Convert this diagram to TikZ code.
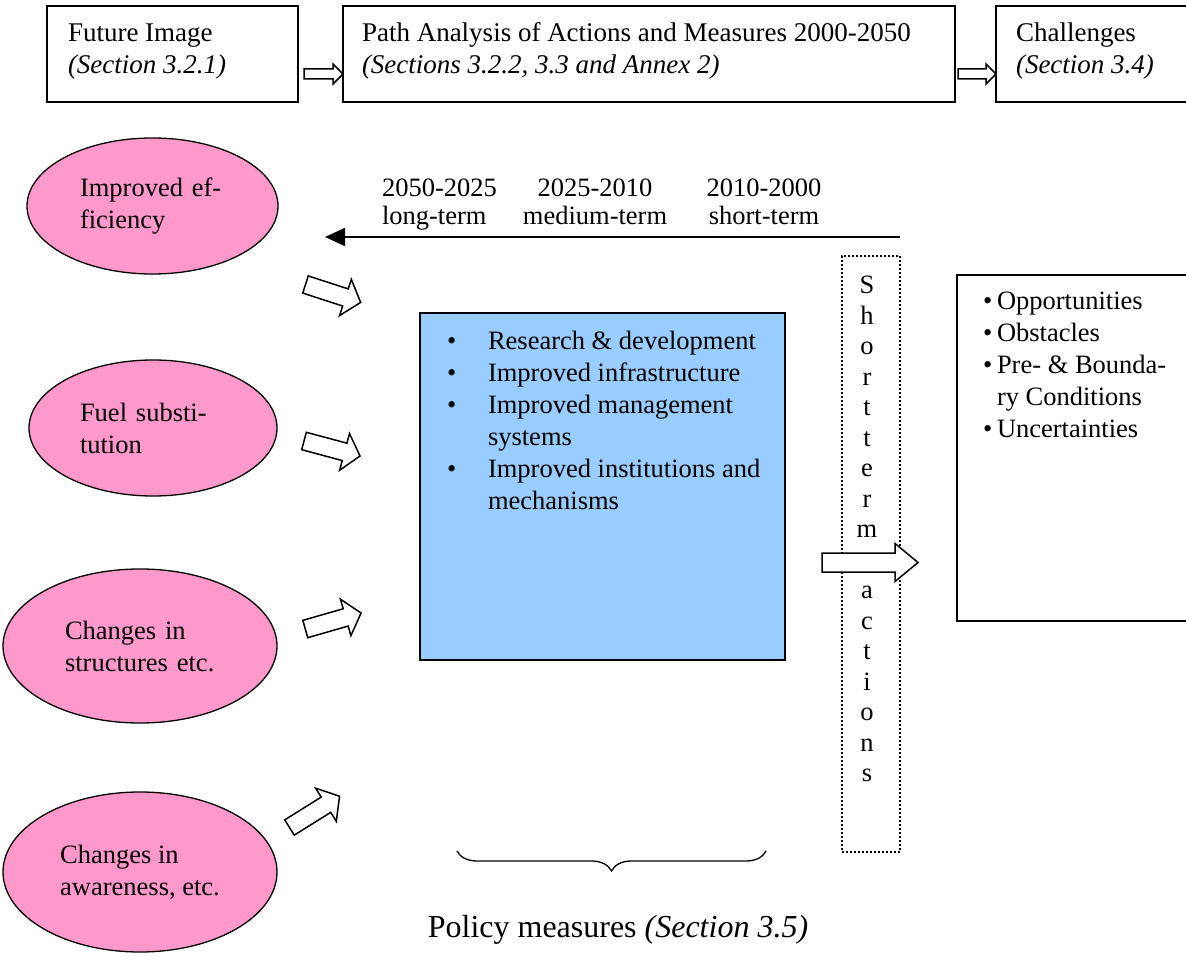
\documentclass[tikz,border=0pt]{standalone}
\usepackage{fontspec}
\setmainfont{Liberation Serif}
\usetikzlibrary{arrows.meta,decorations.pathreplacing,shapes.geometric}

\definecolor{petal}{RGB}{255,153,204}
\definecolor{sky}{RGB}{153,204,255}

\tikzset{
  every node/.style={inner sep=0pt, outer sep=0pt},
  body/.style={font=\fontsize{26.5}{32}\selectfont},
  headtext/.style={font=\fontsize{27}{32}\selectfont},
  frame/.style={draw, line width=1.5pt, anchor=north west},
  oval/.style={ellipse, draw, line width=1.3pt, fill=petal, body, align=left},
  blockline/.style={draw, line width=1.5pt, fill=white, line join=miter},
  % hollow block arrow: length, half shaft, half head, head length
  pics/blockarrow/.style n args={4}{code={
    \path[blockline] (0,-#2) -- (#1-#4,-#2) -- (#1-#4,-#3) -- (#1,0)
      -- (#1-#4,#3) -- (#1-#4,#2) -- (0,#2) -- cycle;}},
}

\begin{document}
\begin{tikzpicture}[x=1pt,y=-1pt]
\useasboundingbox (0,0) rectangle (1186,973);

% ---- top row of stages
\node[frame, minimum width=251pt, minimum height=96pt] (fut) at (47,6) {};
\node[headtext, anchor=base west] (futT) at (68,42)
  {\begin{tabular}[t]{@{}l@{}}Future Image\\\textit{(Section 3.2.1)}\end{tabular}};
\node[frame, minimum width=612pt, minimum height=96pt] (path) at (343,6) {};
\node[headtext, anchor=base west] (pathT) at (362,42)
  {\begin{tabular}[t]{@{}l@{}}Path Analysis of Actions and Measures 2000-2050\\\textit{(Sections 3.2.2, 3.3 and Annex 2)}\end{tabular}};
\node[frame, minimum width=220pt, minimum height=96pt] (chal) at (996,6) {};
\node[headtext, anchor=base west] (chalT) at (1016,42)
  {\begin{tabular}[t]{@{}l@{}}Challenges\\\textit{(Section 3.4)}\end{tabular}};
\pic at (304,74) {blockarrow={39}{5}{10}{10}};
\pic at (958,74) {blockarrow={38}{5}{10}{10}};

% ---- time line
\node[anchor=base west, font=\fontsize{26.5}{28}\selectfont] (lt) at (382,197)
  {\begin{tabular}[t]{@{}l@{}}2050-2025\\long-term\end{tabular}};
\node[anchor=base, font=\fontsize{26.5}{28}\selectfont] (mt) at (595,197)
  {\begin{tabular}[t]{@{}c@{}}2025-2010\\medium-term\end{tabular}};
\node[anchor=base, font=\fontsize{26.5}{28}\selectfont] (stm) at (764,197)
  {\begin{tabular}[t]{@{}c@{}}2010-2000\\short-term\end{tabular}};
\coordinate (tlR) at (900,237);
\coordinate (tlL) at (325,237);
\draw[line width=1.6pt, -{Triangle[length=20pt,width=18pt]}] (tlR) -- (tlL);

% ---- driving factors
\node[oval, minimum width=251pt, minimum height=136pt, text width=145pt] (eff) at (152.5,206) {Improved ef-\\ficiency};
\node[oval, minimum width=248pt, minimum height=136pt, text width=146pt] (fuel) at (153,428) {Fuel substi-\\tution};
\node[oval, minimum width=274pt, minimum height=154pt, text width=150pt] (struct) at (140,646) {Changes in\\structures etc.};
\node[oval, minimum width=274pt, minimum height=160pt] (aware) at (140,872) {Changes in\\awareness, etc.};

\pic[rotate=-18] at (305.5,284.5) {blockarrow={58}{9}{19}{16}};
\pic[rotate=-15] at (304,441) {blockarrow={58}{9}{19}{16}};
\pic[rotate=16] at (305.3,629) {blockarrow={58}{9}{19}{16}};
\pic[rotate=32] at (289.5,827.5) {blockarrow={59}{9}{19.5}{16}};

% ---- policy measures
\node[frame, line width=1.3pt, fill=sky, minimum width=365pt, minimum height=347pt] (meas) at (420,313) {};
\node[body, anchor=base west] (measT) at (447,350)
  {\begin{tabular}[t]{@{}p{41pt}@{}l@{}}
   \textbullet & Research \& development\\
   \textbullet & Improved infrastructure\\
   \textbullet & Improved management\\
               & systems\\
   \textbullet & Improved institutions and\\
               & mechanisms
   \end{tabular}};

% ---- short term actions column
\node[draw, line width=1.8pt, dash pattern=on 1.8pt off 2.2pt, anchor=north west,
      minimum width=58pt, minimum height=596pt] (stbox) at (842,256) {};
\node[anchor=base, font=\fontsize{26.5}{30.5}\selectfont] (stT) at (867,294)
  {\begin{tabular}[t]{@{}c@{}}S\\h\\o\\r\\t\\t\\e\\r\\m\\\mbox{}\\a\\c\\t\\i\\o\\n\\s\end{tabular}};
\pic at (822,562.5) {blockarrow={96}{9.5}{19}{23}};

% ---- challenges list
\node[frame, minimum width=260pt, minimum height=346pt] (chall) at (957,275) {};
\node[body, anchor=base west] (challT) at (983,310)
  {\begin{tabular}[t]{@{}p{14pt}@{}l@{}}
   \textbullet & Opportunities\\
   \textbullet & Obstacles\\
   \textbullet & Pre- \& Bounda-\\
               & ry Conditions\\
   \textbullet & Uncertainties
   \end{tabular}};

% ---- brace and caption
\coordinate (brL) at (457,851);
\coordinate (brR) at (766,851);
\draw[line width=1.3pt, decorate, decoration={brace, mirror, amplitude=20pt}] (brL) -- (brR);
\node[anchor=base, font=\fontsize{32}{38}\selectfont] (pol) at (618,937)
  {Policy measures \textit{(Section 3.5)}};

\end{tikzpicture}
\end{document}
